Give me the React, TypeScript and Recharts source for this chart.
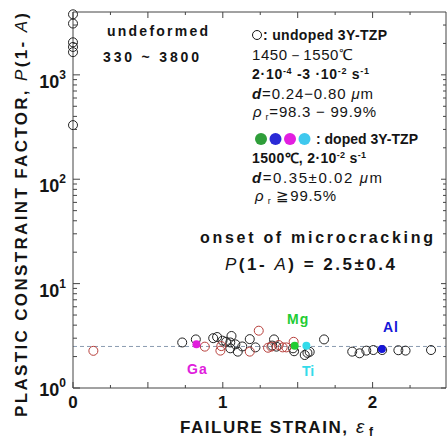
import { ScatterChart, Scatter, XAxis, YAxis, ReferenceLine } from 'recharts'

// page has an 8px body margin by default — the figure should sit at 0,0
document.body.style.margin = '0'

/* ---------- data ---------- */

const xMajorTicks = [0, 1, 2]
const xTicks = [0, 0.25, 0.5, 0.75, 1, 1.25, 1.5, 1.75, 2, 2.25]
const yDecades = [1, 10, 100, 1000]
const yTicks = [
  1, 2, 3, 4, 5, 6, 7, 8, 9,
  10, 20, 30, 40, 50, 60, 70, 80, 90,
  100, 200, 300, 400, 500, 600, 700, 800, 900,
  1000, 2000, 3000,
]

// undeformed (strain = 0)
const undeformedStrain = [0, 0, 0, 0, 0, 0]
const undeformedP = [3800, 3100, 2050, 1850, 1650, 330]

// undoped 3Y-TZP, open black circles
const undopedStrain = [
  0.729, 0.82, 0.936, 0.962, 0.998, 1.022, 1.058, 1.05, 1.05, 1.084,
  1.1, 1.13, 1.18, 1.218, 1.342, 1.358, 1.33, 1.469, 1.476, 1.547,
  1.58, 1.565, 1.676, 1.864, 1.913, 1.958, 2.005, 2.064, 2.172, 2.22, 2.39,
]
const undopedP = [
  2.73, 2.92, 3.0, 3.08, 2.84, 2.77, 3.15, 2.73, 2.4, 2.62,
  2.23, 2.5, 2.94, 2.45, 2.92, 2.49, 2.55, 2.4, 2.25, 2.07,
  2.22, 2.17, 2.92, 2.23, 2.15, 2.28, 2.31, 2.31, 2.3, 2.28, 2.31,
]

// undoped 3Y-TZP, open red circles
const redStrain = [0.136, 0.88, 0.984, 0.99, 1.18, 1.24, 1.302, 1.324, 1.373, 1.4, 1.424, 1.473]
const redP = [2.27, 2.49, 2.28, 2.52, 2.23, 3.54, 2.43, 2.49, 2.58, 2.45, 2.45, 2.77]

// doped 3Y-TZP, filled dots
const dopants = ['Mg', 'Ti', 'Al', 'Ga']
const dopantStrain = [1.48, 1.558, 2.062, 0.824]
const dopantP = [2.54, 2.54, 2.36, 2.63]
const dopantColors = ['#22cc33', '#33dbea', '#1616d8', '#e020dc']

const onsetP = 2.5

/* ---------- helpers ---------- */

const F = '"Liberation Sans", Arial, Helvetica, sans-serif'
const INK = '#141414'
const AXIS = '#444'
const X_MAX = 2.49

const zip = (xs: number[], ys: number[]) => xs.map((x, i) => ({ x, y: ys[i] }))

const openCircle = (color: string) => (p: any) => (
  <circle cx={p.cx} cy={p.cy} r={4.5} fill="none" stroke={color} strokeWidth={1} />
)
const dot = (color: string) => (p: any) => <circle cx={p.cx} cy={p.cy} r={4} fill={color} />
const nothing = () => <g />

const isHalf = (v: number) => Math.abs(v * 2 - Math.round(v * 2)) < 1e-6

function BottomTick({ x, y, payload }: any) {
  const v = payload.value
  const len = isHalf(v) ? 6 : 3
  return (
    <g>
      <line x1={x} x2={x} y1={y} y2={y - len} stroke={AXIS} />
      {xMajorTicks.includes(v) && (
        <text x={x} y={y + 20} textAnchor="middle" fontSize={17} fontWeight="bold" fontFamily={F} fill={INK}>
          {v}
        </text>
      )}
    </g>
  )
}

function TopTick({ x, y, payload }: any) {
  const len = isHalf(payload.value) ? 6 : 3
  return <line x1={x} x2={x} y1={y} y2={y + len} stroke={AXIS} />
}

function LeftTick({ x, y, payload }: any) {
  const v = payload.value
  const major = yDecades.includes(v)
  const exp = Math.round(Math.log10(v))
  return (
    <g>
      <line x1={x} x2={x + (major ? 7 : 4)} y1={y} y2={y} stroke={AXIS} />
      {major && (
        <text x={x - 7} y={v === 1 ? y + 8 : y + 13} textAnchor="end" fontSize={18} fontWeight="bold" fontFamily={F} fill={INK}>
          10
          <tspan dy={-9} fontSize={12}>{exp}</tspan>
        </text>
      )}
    </g>
  )
}

function RightTick({ x, y, payload }: any) {
  const major = yDecades.includes(payload.value)
  return <line x1={x} x2={x - (major ? 5 : 3)} y1={y} y2={y} stroke={AXIS} />
}

/* ---------- annotation layer ---------- */

function Notes() {
  const t = { fontFamily: F, fill: INK }
  return (
    <svg width={448} height={442} style={{ position: 'absolute', left: 0, top: 0, pointerEvents: 'none' }}>
      {/* axis titles */}
      <text
        transform="translate(27,215) rotate(-90)"
        textAnchor="middle"
        fontSize={17}
        fontWeight="bold"
        textLength={404}
        lengthAdjust="spacing"
        {...t}
      >
        PLASTIC CONSTRAINT FACTOR, <tspan fontStyle="italic" fontWeight="normal">P</tspan>(1-{' '}
        <tspan fontStyle="italic" fontWeight="normal">A</tspan>)
      </text>
      <text x={180} y={433} fontSize={17} fontWeight="bold" textLength={167} lengthAdjust="spacing" {...t}>
        FAILURE STRAIN,
      </text>
      <text x={356} y={433} fontSize={19} fontStyle="italic" {...t}>ε</text>
      <text x={369} y={436} fontSize={12} fontWeight="bold" {...t}>f</text>

      {/* undeformed block */}
      <text x={107} y={36} fontSize={14} fontWeight="bold" textLength={101} lengthAdjust="spacing" {...t}>
        undeformed
      </text>
      <text x={103} y={62} fontSize={14} fontWeight="bold" textLength={96} lengthAdjust="spacing" {...t}>
        330 ~ 3800
      </text>

      {/* undoped block */}
      <circle cx={257} cy={35} r={4.5} fill="none" stroke={INK} strokeWidth={1} />
      <text x={263} y={40} fontSize={14} fontWeight="bold" textLength={124} lengthAdjust="spacing" {...t}>
        : undoped 3Y-TZP
      </text>
      <text x={252} y={60} fontSize={15} textLength={101} lengthAdjust="spacing" {...t}>1450－1550℃</text>
      <text x={252} y={79} fontSize={14} fontWeight="bold" textLength={117} lengthAdjust="spacing" {...t}>
        2·10<tspan dy={-5} fontSize={9}>-4</tspan>
        <tspan dy={5}> -3 ·10</tspan>
        <tspan dy={-5} fontSize={9}>-2</tspan>
        <tspan dy={5}> s</tspan>
        <tspan dy={-5} fontSize={9}>-1</tspan>
      </text>
      <text x={252} y={99} fontSize={15} textLength={121} lengthAdjust="spacing" {...t}>
        <tspan fontWeight="bold" fontStyle="italic">d</tspan>=0.24−0.80 <tspan fontStyle="italic">μ</tspan>m
      </text>
      <text x={253} y={117} fontSize={15} textLength={123} lengthAdjust="spacing" {...t}>
        <tspan fontStyle="italic">ρ</tspan>
        <tspan dy={3} fontSize={9}> r</tspan>
        <tspan dy={-3}>=98.3 − 99.9%</tspan>
      </text>

      {/* doped block */}
      {['#2f9e3a', '#2a2ad6', '#e21ee0', '#3fc8ee'].map((c, i) => (
        <circle key={c} cx={261 + i * 14.5} cy={139} r={6} fill={c} />
      ))}
      <text x={316} y={144} fontSize={14} fontWeight="bold" textLength={102} lengthAdjust="spacing" {...t}>
        : doped 3Y-TZP
      </text>
      <text x={252} y={163} fontSize={14} fontWeight="bold" textLength={114} lengthAdjust="spacing" {...t}>
        1500℃, 2·10<tspan dy={-5} fontSize={9}>-2</tspan>
        <tspan dy={5}> s</tspan>
        <tspan dy={-5} fontSize={9}>-1</tspan>
      </text>
      <text x={252} y={183} fontSize={15} textLength={130} lengthAdjust="spacing" {...t}>
        <tspan fontWeight="bold" fontStyle="italic">d</tspan>=0.35±0.02 <tspan fontStyle="italic">μ</tspan>m
      </text>
      <text x={255} y={201} fontSize={15} textLength={81} lengthAdjust="spacing" {...t}>
        <tspan fontStyle="italic">ρ</tspan>
        <tspan dy={3} fontSize={9}> r</tspan>
        <tspan dy={-3}> ≧99.5%</tspan>
      </text>

      {/* onset note */}
      <text x={200} y={243} fontSize={16} fontWeight="bold" textLength={233} lengthAdjust="spacing" {...t}>
        onset of microcracking
      </text>
      <text x={225} y={270} fontSize={17} fontWeight="bold" textLength={170} lengthAdjust="spacing" {...t}>
        <tspan fontStyle="italic" fontWeight="normal">P</tspan>(1- <tspan fontStyle="italic" fontWeight="normal">A</tspan>) = 2.5±0.4
      </text>

      {/* dopant labels */}
      <text x={287} y={324} fontSize={14} fontWeight="bold" fontFamily={F} fill={dopantColors[0]} letterSpacing={1}>Mg</text>
      <text x={383} y={332} fontSize={14} fontWeight="bold" fontFamily={F} fill={dopantColors[2]} letterSpacing={1}>Al</text>
      <text x={187} y={374} fontSize={14} fontWeight="bold" fontFamily={F} fill={dopantColors[3]} letterSpacing={1}>Ga</text>
      <text x={302} y={376} fontSize={14} fontWeight="bold" fontFamily={F} fill={dopantColors[1]}>Ti</text>
    </svg>
  )
}

/* ---------- chart ---------- */

export default function App() {
  return (
    <div style={{ position: 'relative', width: 448, height: 442, background: '#fff' }}>
      <ScatterChart width={448} height={442} margin={{ top: 11, right: 1, bottom: 0, left: 0 }}>
        <XAxis
          dataKey="x"
          type="number"
          domain={[0, X_MAX]}
          ticks={xTicks}
          interval={0}
          height={54}
          tickSize={0}
          tickMargin={0}
          tickLine={false}
          axisLine={{ stroke: AXIS }}
          tick={<BottomTick />}
        />
        <XAxis
          xAxisId="top"
          orientation="top"
          dataKey="x"
          type="number"
          domain={[0, X_MAX]}
          ticks={xTicks}
          interval={0}
          height={1}
          tickSize={0}
          tickMargin={0}
          tickLine={false}
          axisLine={{ stroke: AXIS }}
          tick={<TopTick />}
        />
        <YAxis
          dataKey="y"
          type="number"
          scale="log"
          domain={[1, 4000]}
          ticks={yTicks}
          interval={0}
          width={73}
          tickSize={0}
          tickMargin={0}
          tickLine={false}
          axisLine={{ stroke: AXIS }}
          tick={<LeftTick />}
        />
        <YAxis
          yAxisId="right"
          orientation="right"
          dataKey="y"
          type="number"
          scale="log"
          domain={[1, 4000]}
          ticks={yTicks}
          interval={0}
          width={1}
          tickSize={0}
          tickMargin={0}
          tickLine={false}
          axisLine={{ stroke: AXIS }}
          tick={<RightTick />}
        />
        <ReferenceLine y={onsetP} stroke="#8a9bb0" strokeDasharray="4 3" strokeWidth={1} />
        {/* frame axes need a series to be drawn; this one draws no marks */}
        <Scatter
          xAxisId="top"
          yAxisId="right"
          data={zip(undeformedStrain, undeformedP)}
          shape={nothing}
          isAnimationActive={false}
        />
        <Scatter data={zip(undeformedStrain, undeformedP)} shape={openCircle('#222')} isAnimationActive={false} />
        <Scatter data={zip(undopedStrain, undopedP)} shape={openCircle('#222')} isAnimationActive={false} />
        <Scatter data={zip(redStrain, redP)} shape={openCircle('#b8403c')} isAnimationActive={false} />
        {dopants.map((name, i) => (
          <Scatter
            key={name}
            name={name}
            data={[{ x: dopantStrain[i], y: dopantP[i] }]}
            shape={dot(dopantColors[i])}
            isAnimationActive={false}
          />
        ))}
      </ScatterChart>
      <Notes />
    </div>
  )
}
